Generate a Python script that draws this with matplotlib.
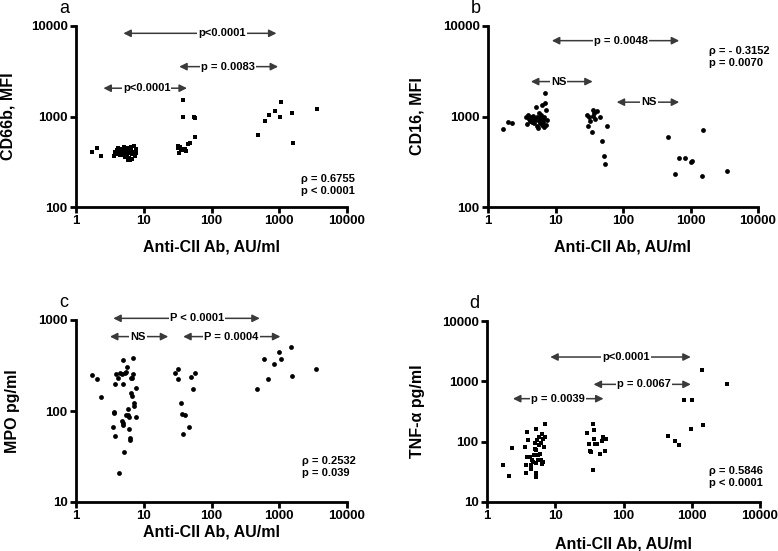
import numpy as np
import matplotlib
matplotlib.use("Agg")
import matplotlib.pyplot as plt
from matplotlib.ticker import FixedLocator, FixedFormatter, NullLocator

plt.rcParams['font.family'] = ['Liberation Sans', 'DejaVu Sans']
plt.rcParams['font.weight'] = 'bold'

# ---- data ----
# panel a: CD66b MFI
a_x = [1.71, 2.07, 2.32,
       3.7, 3.8, 3.9, 4.0, 4.1, 4.2, 4.3, 4.4, 4.5, 4.6, 4.7, 4.8, 5.0, 5.1, 5.2, 5.3,
       5.4, 5.5, 5.6, 5.7, 5.9, 6.0, 6.1, 6.2, 6.3, 6.5, 6.6, 6.8, 7.0, 7.2, 7.4, 7.6,
       7.8, 6.4, 5.8,
       31.6, 32.5, 33.5, 34, 36, 37.8, 37.8, 38.5, 40, 42, 45, 48.6, 54.4, 57.6, 57.6,
       487, 611, 700, 859, 1042, 1078, 1550, 1603, 3631]
a_y = [401, 448, 362,
       370, 410, 395, 430, 385, 445, 400, 375, 420, 395, 440, 380, 410, 455, 390, 360,
       425, 400, 445, 375, 415, 350, 395, 430, 330, 460, 385, 340, 410, 470, 365, 440,
       400, 420, 330,
       448, 470, 400, 455, 440, 1527, 1000, 430, 440, 415, 500, 516, 1000, 960, 601,
       628, 881, 1026, 1155, 984, 1462, 1089, 508, 1205]

# panel b: CD16 MFI
b_x = [1.67, 1.98, 2.26,
       3.6, 3.8, 3.9, 4.0, 4.2, 4.4, 4.5, 4.7, 4.8, 5.0, 5.2, 5.3, 5.4, 5.5, 5.6, 5.8,
       5.9, 6.0, 6.2, 6.3, 6.4, 6.5, 6.6, 6.8, 7.0, 7.1, 7.2, 7.3, 7.5, 6.7, 4.6, 5.7,
       29, 30.5, 31.5, 33, 34.5, 36.5, 37.5, 39, 41, 45, 48.4, 52.4, 54.5, 57.4, 35.5,
       468, 587, 680, 825, 1000, 1035, 1487, 1538, 3522]
b_y = [725, 866, 844,
       980, 830, 1050, 950, 900, 1000, 880, 960, 850, 920, 1280, 1000, 780, 740, 890, 960,
       840, 1050, 900, 1350, 800, 950, 870, 1000, 1807, 1426, 1185, 810, 920, 760, 1020, 1100,
       1042, 776, 1000, 900, 672, 1185, 1100, 950, 1140, 990, 543, 362, 301, 789, 1020,
       592, 233, 347, 347, 311, 322, 218, 713, 252]

# panel c: MPO pg/ml
c_x = [1.70, 2.06, 2.31,
       3.55, 3.62, 3.65, 3.75, 3.75, 3.9, 4.1, 4.35, 4.5, 4.7, 4.9, 4.9, 4.9, 5.0, 5.1,
       5.2, 5.4, 5.6, 5.8, 5.9, 6.0, 6.0, 6.2, 6.3, 6.4, 6.4, 6.6, 6.8, 7.0, 7.0, 7.1,
       7.3, 7.7, 7.7, 5.5, 4.8,
       28.8, 32.3, 32.3, 34.9, 37.3, 38.2, 40.4, 46.9, 49, 53.7, 56.8,
       477, 598, 684, 839, 995, 1052, 1511, 1564, 3532]
c_y = [248, 224, 143,
       67, 98, 94, 196, 53, 252, 232, 21, 263, 252, 196, 73, 70, 363, 35.5,
       263, 270, 306, 106, 90, 86, 64, 50, 48, 232, 156, 146, 232, 378, 252, 113,
       121, 177, 86, 90, 78,
       263, 286, 224, 123, 92, 56.5, 90, 67, 234, 173, 263,
       174, 375, 224, 328, 448, 369, 508, 244, 291]

# panel d: TNF-alpha pg/ml
d_x = [1.71, 2.07, 2.32,
       3.6, 3.7, 3.75, 3.9, 3.9, 4.0, 4.2, 4.4, 4.5, 4.7, 5.0, 5.1, 5.2, 5.2, 5.25, 5.3,
       5.4, 5.5, 5.6, 5.8, 5.8, 6.0, 6.1, 6.2, 6.4, 6.6, 6.7, 6.9, 7.1, 7.1, 5.3, 4.9,
       6.5, 4.4,
       29, 30.8, 31.8, 33.3, 35.6, 36.4, 37.2, 38.5, 35.6, 40.7, 44.6, 48.2, 50.9, 53.9, 55.7,
       456, 570, 660, 781, 967, 1000, 1432, 1482, 3327]
d_y = [40.5, 26.6, 79.6,
       81.6, 40.5, 30.6, 144.6, 55.7, 105, 55.7, 40.5, 49.1, 46, 76.6, 95, 44.3, 30.6, 160, 71.8,
       105, 59.3, 49.1, 119, 86.9, 63.2, 49.1, 95, 43.1, 112, 46, 81.6, 194, 119, 25.9, 59.3,
       136, 35,
       139, 92.7, 70, 67.4, 194, 158, 112, 92.7, 34.4, 92.7, 61.7, 101, 119, 70, 112,
       124, 101, 89, 484, 164, 497, 1521, 187, 891]

# comparison brackets: (label, x from, x to, y, label x)
a_brackets = [("p<0.0001", 5.0, 910, 8300, 143), ("p = 0.0083", 33.4, 962, 3556, 173),
              ("p<0.0001", 2.54, 43.4, 2054, 11)]
b_brackets = [("p = 0.0048", 8.83, 680, 6887, 93), ("NS", 4.32, 35.6, 2432, 11.1),
              ("NS", 80.6, 680, 1440, 245)]
c_brackets = [("P < 0.0001", 3.55, 516, 1043, 61.5), ("NS", 3.17, 23, 657, 8.2),
              ("P = 0.0004", 38.2, 1040, 657, 197)]
d_brackets = [("p<0.0001", 8.45, 967, 2529, 109), ("p = 0.0067", 36.4, 967, 891, 199),
              ("p = 0.0039", 2.40, 51, 516, 10.8)]

xlabel = "Anti-CII Ab, AU/ml"
xticks = [1, 10, 100, 1000, 10000]

W, H = 778, 551
fig = plt.figure(figsize=(W / 100, H / 100), dpi=100)


def make_ax(left, right, top, bottom):
    return fig.add_axes([left / W, 1 - bottom / H, (right - left) / W, (bottom - top) / H])


def setup(ax, ylim, yticks, ylabel, letter, marker, msize, xs, ys, brackets, stat,
          stat_pos, xlab_y, ylab_x):
    ax.scatter(xs, ys, s=msize, marker=marker, color='black', linewidths=0, zorder=3)
    ax.set_xscale('log')
    ax.set_yscale('log')
    ax.set_xlim(1, 10000)
    ax.set_ylim(*ylim)
    for s in ['top', 'right']:
        ax.spines[s].set_visible(False)
    for s in ['left', 'bottom']:
        ax.spines[s].set_linewidth(2)
    ax.xaxis.set_major_locator(FixedLocator(xticks))
    ax.xaxis.set_major_formatter(FixedFormatter([str(t) for t in xticks]))
    ax.yaxis.set_major_locator(FixedLocator(yticks))
    ax.yaxis.set_major_formatter(FixedFormatter([str(t) for t in yticks]))
    ax.xaxis.set_minor_locator(NullLocator())
    ax.yaxis.set_minor_locator(NullLocator())
    ax.tick_params(which='major', direction='out', length=4, width=2, labelsize=9.5, pad=2)
    for lab in ax.get_xticklabels() + ax.get_yticklabels():
        lab.set_fontweight('bold')
    ax.set_xlabel(xlabel, fontsize=11.5, fontweight='bold')
    ax.set_ylabel(ylabel, fontsize=11.5, fontweight='bold')
    ax.xaxis.set_label_coords(0.5, xlab_y)
    ax.yaxis.set_label_coords(ylab_x, 0.5)
    ax.text(-0.045, 1.05, letter, transform=ax.transAxes, fontsize=13,
            fontweight='normal', ha='center', va='bottom')
    for label, x1, x2, y, xt in brackets:
        ax.annotate('', xy=(x2, y), xytext=(x1, y),
                    arrowprops=dict(arrowstyle='<|-|>', lw=1.1, color='#3a3a3a',
                                    mutation_scale=11, shrinkA=0, shrinkB=0),
                    annotation_clip=False)
        ax.text(xt, y, label, fontsize=8, fontweight='bold', ha='center',
                va='center', clip_on=False,
                bbox=dict(facecolor='white', edgecolor='none', pad=0.8))
    ax.text(stat_pos[0], stat_pos[1], stat, transform=ax.transAxes, fontsize=8,
            fontweight='bold', ha='left', va='top', linespacing=1.25)


ax_a = make_ax(76, 347, 26, 207)
setup(ax_a, (100, 10000), [100, 1000, 10000], "CD66b, MFI", "a", 's', 12,
      a_x, a_y, a_brackets, "\u03c1 = 0.6755\np < 0.0001", (0.83, 0.185), -0.18, -0.225)

ax_b = make_ax(488, 758, 26, 207)
setup(ax_b, (100, 10000), [100, 1000, 10000], "CD16, MFI", "b", 'o', 12,
      b_x, b_y, b_brackets, "\u03c1 = - 0.3152\np = 0.0070", (0.82, 0.89), -0.18, -0.235)

ax_c = make_ax(76, 347, 320, 502)
setup(ax_c, (10, 1000), [10, 100, 1000], "MPO pg/ml", "c", 'o', 12,
      c_x, c_y, c_brackets, "\u03c1 = 0.2532\np = 0.039", (0.835, 0.25), -0.125, -0.205)

ax_d = make_ax(487, 760, 321, 502)
setup(ax_d, (10, 10000), [10, 100, 1000, 10000], "TNF-\u03b1 pg/ml", "d", 's', 12,
      d_x, d_y, d_brackets, "\u03c1 = 0.5846\np < 0.0001", (0.815, 0.2), -0.19, -0.228)

fig.savefig("out.png", dpi=100)
